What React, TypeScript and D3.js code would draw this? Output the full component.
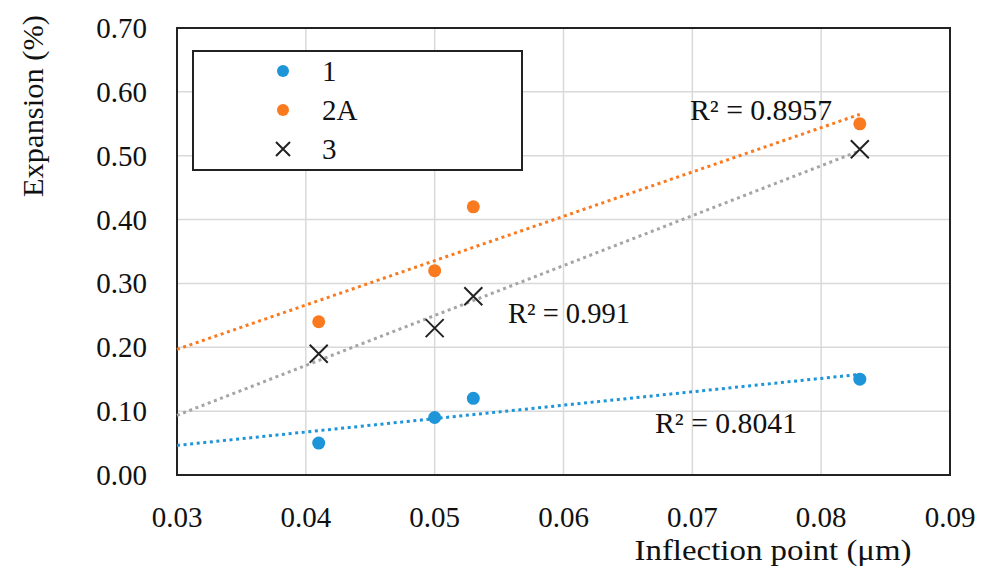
import React from "react";
import * as d3 from "d3";

// data
const xValues = [0.041, 0.05, 0.053, 0.083];
const series1 = [0.05, 0.09, 0.12, 0.15];
const series2A = [0.24, 0.32, 0.42, 0.55];
const series3 = [0.19, 0.23, 0.28, 0.51];
const xTicks = [0.03, 0.04, 0.05, 0.06, 0.07, 0.08, 0.09];
const yTicks = [0, 0.1, 0.2, 0.3, 0.4, 0.5, 0.6, 0.7];
const r2Labels = ["R² = 0.8041", "R² = 0.8957", "R² = 0.991"];

const W = 987;
const H = 570;
const plot = { left: 177, right: 950, top: 28, bottom: 475 };
const FONT = "'Liberation Serif', 'Times New Roman', serif";

const BLUE = "#1e95d8";
const ORANGE = "#f97a1f";
const GREY = "#a5a5a5";

// least squares fit, used for the excel-style trendlines
const fit = (xs: number[], ys: number[]) => {
  const mx = d3.mean(xs)!;
  const my = d3.mean(ys)!;
  const sxy = d3.sum(xs, (x, i) => (x - mx) * (ys[i] - my));
  const sxx = d3.sum(xs, (x) => (x - mx) ** 2);
  const slope = sxy / sxx;
  return (x: number) => my + slope * (x - mx);
};

export default function App() {
  const x = d3.scaleLinear().domain([0.03, 0.09]).range([plot.left, plot.right]);
  const y = d3.scaleLinear().domain([0, 0.7]).range([plot.bottom, plot.top]);

  const trendX = [0.03, d3.max(xValues)!];
  const line = d3
    .line<[number, number]>()
    .x((d) => x(d[0]))
    .y((d) => y(d[1]));

  const trends = [
    { ys: series1, color: BLUE },
    { ys: series2A, color: ORANGE },
    { ys: series3, color: GREY },
  ].map((s) => {
    const f = fit(xValues, s.ys);
    return { d: line(trendX.map((v) => [v, f(v)] as [number, number])), color: s.color };
  });

  const cross = (cx: number, cy: number, s: number, key: string) => (
    <path
      key={key}
      d={`M${cx - s},${cy - s}L${cx + s},${cy + s}M${cx - s},${cy + s}L${cx + s},${cy - s}`}
      stroke="#222"
      strokeWidth={2}
      fill="none"
    />
  );

  return (
    <svg
      width={W}
      height={H}
      style={{ position: "absolute", left: 0, top: 0, background: "#fff" }}
      fontFamily={FONT}
    >
      <rect width={W} height={H} fill="#fff" />

      {/* grid */}
      {xTicks.map((t) => (
        <line key={"gx" + t} x1={x(t)} x2={x(t)} y1={plot.top} y2={plot.bottom} stroke="#d9d9d9" strokeWidth={1.5} />
      ))}
      {yTicks.map((t) => (
        <line key={"gy" + t} x1={plot.left} x2={plot.right} y1={y(t)} y2={y(t)} stroke="#d9d9d9" strokeWidth={1.5} />
      ))}

      {/* frame */}
      <rect
        x={plot.left}
        y={plot.top}
        width={plot.right - plot.left}
        height={plot.bottom - plot.top}
        fill="none"
        stroke="#222"
        strokeWidth={2}
      />

      {/* tick labels */}
      {yTicks.map((t) => (
        <text key={"ty" + t} x={plot.left - 30} y={y(t) + 10} textAnchor="end" fontSize={29} fill="#111">
          {t.toFixed(2)}
        </text>
      ))}
      {xTicks.map((t) => (
        <text key={"tx" + t} x={x(t)} y={527} textAnchor="middle" fontSize={29} fill="#111">
          {t.toFixed(2)}
        </text>
      ))}

      {/* axis titles */}
      <text
        transform="translate(43,106) rotate(-90)"
        textAnchor="middle"
        fontSize={29}
        textLength={182}
        lengthAdjust="spacingAndGlyphs"
        fill="#111"
      >
        Expansion (%)
      </text>
      <text x={773} y={560} textAnchor="middle" fontSize={29} textLength={277} lengthAdjust="spacingAndGlyphs" fill="#111">
        Inflection point (μm)
      </text>

      {/* trendlines */}
      {trends.map((t, i) => (
        <path key={"tr" + i} d={t.d ?? ""} fill="none" stroke={t.color} strokeWidth={3} strokeDasharray="3 3.6" />
      ))}

      {/* points */}
      {xValues.map((v, i) => (
        <circle key={"p1" + i} cx={x(v)} cy={y(series1[i])} r={6.5} fill={BLUE} />
      ))}
      {xValues.map((v, i) => (
        <circle key={"p2" + i} cx={x(v)} cy={y(series2A[i])} r={6.5} fill={ORANGE} />
      ))}
      {xValues.map((v, i) => cross(x(v), y(series3[i]), 9, "p3" + i))}

      {/* R² labels */}
      <text x={655} y={433} fontSize={29} textLength={142} lengthAdjust="spacingAndGlyphs" fill="#111">
        {r2Labels[0]}
      </text>
      <text x={690} y={120} fontSize={29} textLength={142} lengthAdjust="spacingAndGlyphs" fill="#111">
        {r2Labels[1]}
      </text>
      <text x={508} y={323} fontSize={29} textLength={122} lengthAdjust="spacingAndGlyphs" fill="#111">
        {r2Labels[2]}
      </text>

      {/* legend */}
      <rect x={193} y={51} width={329} height={119} fill="#fff" stroke="#222" strokeWidth={2} />
      <circle cx={283} cy={71} r={6} fill={BLUE} />
      <text x={322} y={81} fontSize={29} fill="#111">1</text>
      <circle cx={283} cy={110} r={6} fill={ORANGE} />
      <text x={322} y={120} fontSize={29} fill="#111">2A</text>
      {cross(283, 149, 7, "lg3")}
      <text x={322} y={159} fontSize={29} fill="#111">3</text>
    </svg>
  );
}
